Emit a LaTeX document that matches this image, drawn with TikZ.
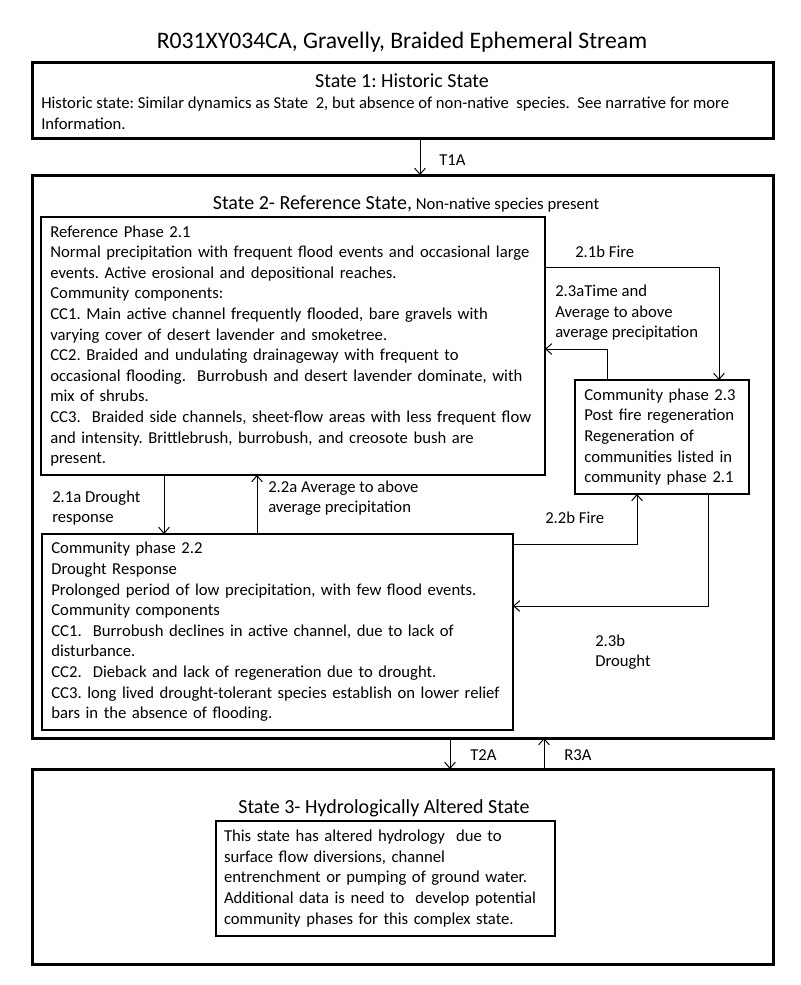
\documentclass[tikz,border=0pt]{standalone}
\usepackage{fontspec}
\setmainfont{Carlito}
\usetikzlibrary{arrows.meta}
\newcommand{\bodyfont}{\fontsize{12.5}{15.45}\selectfont}
\frenchspacing

\begin{document}
\begin{tikzpicture}[x=0.75pt, y=-0.75pt,
	statebox/.style={draw, line width=2.25pt, outer sep=0pt, inner sep=0pt, anchor=north west},
	phasebox/.style={draw, line width=0.8pt, outer sep=0pt, inner xsep=7pt, inner ysep=0pt, anchor=north west, align=left, font=\bodyfont},
	head/.style={inner sep=0pt, font=\fontsize{15}{18}\selectfont},
	lbl/.style={inner sep=0pt, anchor=west, align=left, font=\bodyfont},
	arr/.style={-{Straight Barb[length=4.5pt,width=8pt]}, line width=0.75pt}]
	\useasboundingbox (0,0) rectangle (800,985);

	\node[inner sep=0pt, font=\fontsize{17.75}{21}\selectfont] (title) at (402,42) {R031XY034CA, Gravelly, Braided Ephemeral Stream};

	\node[statebox, minimum width=555.75pt, minimum height=57pt] (s1) at (32,62) {};
	\node[head] (h1) at (402,81) {State 1: Historic State};
	\node[lbl] (d1) at (41,113.5) {Historic state: Similar dynamics as State~ 2, but absence of non-native~ species.~ See narrative for more\\Information.};

	\node[statebox, minimum width=555.75pt, minimum height=422.25pt] (s2) at (32,175) {};
	\node[head] (h2) at (406,204) {State 2- Reference State,\bodyfont{} Non-native species present};

	\node[phasebox, text width=364pt, minimum height=193.5pt] (p21) at (41,217) {Reference Phase 2.1\\
		Normal precipitation with frequent flood events and occasional large\\
		events. Active erosional and depositional reaches.\\
		Community components:\\
		CC1. Main active channel frequently flooded, bare gravels with\\
		varying cover of desert lavender and smoketree.\\
		CC2. Braided and undulating drainageway with frequent to\\
		occasional flooding.~ Burrobush and desert lavender dominate, with\\
		mix of shrubs.\\
		CC3.~ Braided side channels, sheet-flow areas with less frequent flow\\
		and intensity. Brittlebrush, burrobush, and creosote bush are\\
		present.};
	\node[phasebox, text width=116.5pt, minimum height=85.5pt] (p23) at (575,380) {Community phase 2.3\\
		Post fire regeneration\\
		Regeneration of\\
		communities listed in\\
		community phase 2.1};
	\node[phasebox, text width=339.25pt, minimum height=147pt] (p22) at (42,534) {Community phase 2.2\\
		Drought Response\\
		Prolonged period of low precipitation, with few flood events.\\
		Community components\\
		CC1.~ Burrobush declines in active channel, due to lack of\\
		disturbance.\\
		CC2.~ Dieback and lack of regeneration due to drought.\\
		CC3. long lived drought-tolerant species establish on lower relief\\
		bars in the absence of flooding.};

	\node[statebox, minimum width=555.75pt, minimum height=146.25pt] (s3) at (32,769) {};
	\node[head] (h3) at (384,808) {State 3- Hydrologically Altered State};
	\node[phasebox, inner xsep=6pt, text width=242.25pt, minimum height=86.25pt] (p3) at (216,821) {This state has altered hydrology~ due to\\
		surface flow diversions, channel\\
		entrenchment or pumping of ground water.\\
		Additional data is need to~ develop potential\\
		community phases for this complex state.};

	\draw[arr] (s1.south -| 420,0) -- (s2.north -| 420,0);
	\node[lbl] (t1a) at (439,160) {T1A};

	\draw[arr] (p21.east |- 0,267) -| (p23.north -| 719,0);
	\node[lbl] (l21b) at (575,252) {2.1b Fire};
	\draw[arr] (p23.north -| 607,0) |- (p21.east |- 0,349);
	\node[lbl] (l23a) at (555,313) {2.3aTime and\\Average to above\\average precipitation};

	\draw[arr] (p21.south -| 164,0) -- (p22.north -| 164,0);
	\node[lbl] (l21a) at (52,508) {2.1a Drought\\response};
	\draw[arr] (p22.north -| 257,0) -- (p21.south -| 257,0);
	\node[lbl] (l22a) at (268,498) {2.2a Average to above\\average precipitation};

	\draw[arr] (p22.east |- 0,544) -| (p23.south -| 637,0);
	\node[lbl] (l22b) at (545,518) {2.2b Fire};
	\draw[arr] (p23.south -| 708,0) |- (p22.east |- 0,606);
	\node[lbl] (l23b) at (595,652) {2.3b\\Drought};

	\draw[arr] (s2.south -| 450,0) -- (s3.north -| 450,0);
	\node[lbl] (t2a) at (470,755) {T2A};
	\draw[arr] (s3.north -| 544,0) -- (s2.south -| 544,0);
	\node[lbl] (r3a) at (564,755) {R3A};
\end{tikzpicture}
\end{document}
